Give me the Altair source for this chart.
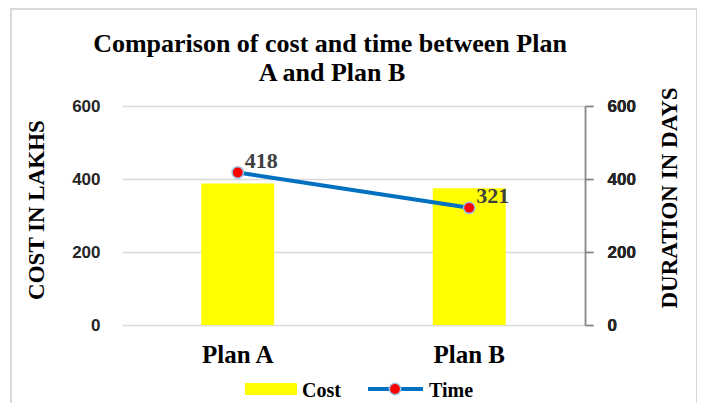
import altair as alt
import pandas as pd

# ---- data ----
plans = ["Plan A", "Plan B"]
cost_lakhs = [388, 375]
time_days = [418, 321]
y_ticks = [0, 200, 400, 600]

title_lines = ["Comparison of cost and time between Plan", "A and Plan B"]
left_title = "COST IN LAKHS"
right_title = "DURATION IN DAYS"
legend_labels = ["Cost", "Time"]

df = pd.DataFrame({"plan": plans, "cost": cost_lakhs, "time": time_days})

W, H = 463, 219
SERIF = "Liberation Serif"
SANS = "Liberation Sans"

x_enc = alt.X(
    "plan:N", sort=plans, title=None,
    scale=alt.Scale(paddingInner=0.685, paddingOuter=0.3425),
    axis=alt.Axis(labelAngle=0, labelFont=SERIF, labelFontSize=25, labelFontWeight="bold",
                  labelColor="#000000", domain=False, ticks=False, labelPadding=17),
)

y_left = alt.Y(
    "cost:Q", title=None, scale=alt.Scale(domain=[0, 600]),
    axis=alt.Axis(values=y_ticks, orient="left", grid=True, gridColor="#d9d9d9", gridWidth=1.3,
                  domain=False, ticks=False, labelFont=SANS, labelFontSize=17,
                  labelFontWeight="bold", labelColor="#262626", labelPadding=22),
)

y_right = alt.Y(
    "time:Q", title=None, scale=alt.Scale(domain=[0, 600]),
    axis=alt.Axis(values=y_ticks, orient="right", grid=False, domain=True, domainColor="#868686",
                  domainWidth=1.3, ticks=True, tickColor="#868686", tickSize=8, tickWidth=1.3,
                  labelFont=SANS, labelFontSize=17, labelFontWeight="bold",
                  labelColor="#262626", labelPadding=14),
)

base = alt.Chart(df)

bars = base.mark_bar(color="#FFFF00").encode(x=x_enc, y=y_left)

line = base.mark_line(color="#0070C0", strokeWidth=4).encode(x=x_enc, y=y_right)
pts = base.mark_circle(color="#FF0000", size=130, stroke="#9DC3E6", strokeWidth=1.5,
                       opacity=1).encode(x=x_enc, y=y_right)
lbl = base.mark_text(font=SERIF, fontSize=22, fontWeight="bold", color="#404040",
                     align="left", baseline="alphabetic", dx=7, dy=-4.5).encode(
    x=x_enc, y=y_right, text="time:Q")

deco = alt.Chart(pd.DataFrame({"t": [0]}))

frame = deco.mark_rect(fillOpacity=0, stroke="#d9d9d9", strokeWidth=2).encode(
    x=alt.value(-111), x2=alt.value(575), y=alt.value(-97), y2=alt.value(400))

t1 = deco.mark_text(text=title_lines[0], font=SERIF, fontSize=26, fontWeight="bold",
                    color="#000000", align="center", baseline="alphabetic").encode(
    x=alt.value(208), y=alt.value(-54))
t2 = deco.mark_text(text=title_lines[1], font=SERIF, fontSize=26, fontWeight="bold",
                    color="#000000", align="center", baseline="alphabetic").encode(
    x=alt.value(210), y=alt.value(-25))

lt = deco.mark_text(text=left_title, font=SERIF, fontSize=23, fontWeight="bold",
                    color="#000000", align="center", baseline="middle", angle=270).encode(
    x=alt.value(-85), y=alt.value(104))
rt = deco.mark_text(text=right_title, font=SERIF, fontSize=23, fontWeight="bold",
                    color="#000000", align="center", baseline="middle", angle=270).encode(
    x=alt.value(548), y=alt.value(92))

leg_rect = deco.mark_rect(color="#FFFF00").encode(
    x=alt.value(123), x2=alt.value(175), y=alt.value(277), y2=alt.value(289))
leg_cost = deco.mark_text(text=legend_labels[0], font=SERIF, fontSize=20, fontWeight="bold",
                          color="#000000", align="left", baseline="alphabetic").encode(
    x=alt.value(180), y=alt.value(291))
leg_line = deco.mark_rule(color="#0070C0", strokeWidth=4).encode(
    x=alt.value(246), x2=alt.value(301), y=alt.value(283))
leg_dot = deco.mark_circle(color="#FF0000", size=130, stroke="#9DC3E6", strokeWidth=1.5,
                           opacity=1).encode(x=alt.value(273), y=alt.value(283))
leg_time = deco.mark_text(text=legend_labels[1], font=SERIF, fontSize=20, fontWeight="bold",
                          color="#000000", align="left", baseline="alphabetic").encode(
    x=alt.value(307), y=alt.value(291))

chart = alt.layer(
    frame, bars, line, pts, lbl, t1, t2, lt, rt, leg_rect, leg_cost, leg_line, leg_dot, leg_time
).resolve_scale(y="independent").properties(
    width=W, height=H,
    autosize=alt.AutoSizeParams(type="none"),
    padding={"left": 114, "top": 98, "right": 112, "bottom": 78},
    background="white",
).configure_view(strokeWidth=0)

chart.save("out.html", embed_options={"renderer": "svg", "actions": False})
